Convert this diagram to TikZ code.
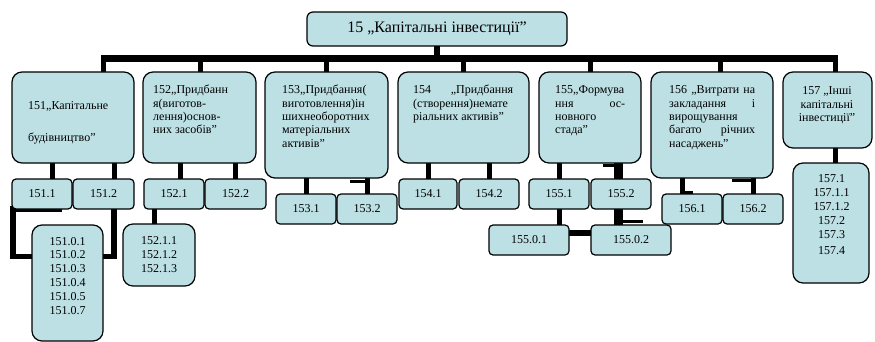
\documentclass[tikz,border=0pt]{standalone}
\usepackage{fontspec}
\setmainfont{Liberation Serif}
\usetikzlibrary{backgrounds}
\definecolor{boxfill}{RGB}{188,224,228}
\newcommand\lns[2]{\begin{tabular}[t]{@{}#1@{}}#2\end{tabular}}
\begin{document}
\begin{tikzpicture}[x=1pt,y=-1pt,
  box/.style={draw=black, line width=1.2pt, fill=boxfill, inner sep=0pt, outer sep=0pt},
  bigbox/.style={box, rounded corners=10pt},
  topbox/.style={box, rounded corners=6pt},
  smallbox/.style={box, rounded corners=4pt, font=\fontsize{12}{14}\selectfont},
  lbl/.style={inner sep=0pt, anchor=base west, font=\fontsize{12}{13.3}\selectfont},
  lstxt/.style={inner sep=0pt, anchor=base, font=\fontsize{12}{14}\selectfont},
  conn/.style={line width=5pt, draw=black},
  wideconn/.style={line width=9pt, draw=black},
  busline/.style={line width=6.5pt, draw=black},
  stub/.style={line width=3pt, draw=black},
]
\useasboundingbox (0,0) rectangle (875,342);

% top
\node[topbox, minimum width=260pt, minimum height=34pt, font=\fontsize{16}{19}\selectfont] (T) at (437,29) {15 „Капітальні інвестиції”};

% level 1
\node[bigbox, minimum width=122pt, minimum height=91pt] (B151) at (73,117.5) {};
\node[bigbox, minimum width=113pt, minimum height=91pt] (B152) at (199.5,117.5) {};
\node[bigbox, minimum width=123pt, minimum height=106pt] (B153) at (326.5,125) {};
\node[bigbox, minimum width=131pt, minimum height=91pt] (B154) at (463.5,117.5) {};
\node[bigbox, minimum width=102pt, minimum height=91pt] (B155) at (590,117.5) {};
\node[bigbox, minimum width=122pt, minimum height=106pt] (B156) at (712,125) {};
\node[bigbox, minimum width=89pt, minimum height=76pt] (B157) at (827.5,110) {};

\node[lbl] (t151) at (28,110) {\lns{l}{151„Капітальне\\[18.7pt]будівництво”}};
\node[lbl] (t152) at (153,94) {\lns{l}{152„Придбанн\\я(виготов-\\лення)основ-\\них засобів”}};
\node[lbl] (t153) at (282,94) {\lns{l}{153„Придбання(\\виготовлення)ін\\шихнеоборотних\\матеріальних\\активів”}};
\node[lbl] (t154) at (413,94) {\lns{l}{\makebox[100pt][s]{154 „Придбання}\\(створення)немате\\ріальних активів”}};
\node[lbl] (t155) at (555,94) {\lns{l}{155„Формува\\\makebox[70pt][s]{ння ос-}\\новного\\стада”}};
\node[lbl] (t156) at (669,94) {\lns{l}{\makebox[86pt][s]{156 „Витрати на}\\\makebox[86pt][s]{закладання і}\\вирощування\\\makebox[86pt][s]{багато річних}\\насаджень”}};
\node[lbl, anchor=base] (t157) at (827,95) {\lns{c}{157 „Інші\\капітальні\\інвестиції”}};

% level 2
\node[smallbox, minimum width=60pt, minimum height=30pt] (S1511) at (42,194) {151.1};
\node[smallbox, minimum width=61pt, minimum height=30pt] (S1512) at (103.5,194) {151.2};
\node[smallbox, minimum width=60pt, minimum height=30pt] (S1521) at (174,194) {152.1};
\node[smallbox, minimum width=61pt, minimum height=30pt] (S1522) at (235.5,194) {152.2};
\node[smallbox, minimum width=60pt, minimum height=30pt] (S1531) at (306,209) {153.1};
\node[smallbox, minimum width=60pt, minimum height=30pt] (S1532) at (367,209) {153.2};
\node[smallbox, minimum width=58pt, minimum height=30pt] (S1541) at (428,194) {154.1};
\node[smallbox, minimum width=60pt, minimum height=30pt] (S1542) at (489,194) {154.2};
\node[smallbox, minimum width=60pt, minimum height=30pt] (S1551) at (559,194) {155.1};
\node[smallbox, minimum width=60pt, minimum height=30pt] (S1552) at (621,194) {155.2};
\node[smallbox, minimum width=60pt, minimum height=30pt] (S1561) at (692,209) {156.1};
\node[smallbox, minimum width=60pt, minimum height=30pt] (S1562) at (753,209) {156.2};
\node[smallbox, minimum width=80pt, minimum height=30pt] (S15501) at (529,240) {155.0.1};
\node[smallbox, minimum width=80pt, minimum height=30pt] (S15502) at (631,240) {155.0.2};

% lists
\node[bigbox, minimum width=71pt, minimum height=116pt] (L151) at (67.5,283) {};
\node[bigbox, minimum width=72pt, minimum height=62pt] (L152) at (159,255) {};
\node[bigbox, minimum width=76pt, minimum height=120pt] (L157) at (831,223) {};
\node[lstxt, font=\fontsize{12}{13.8}\selectfont] (l151) at (67.5,245) {\lns{c}{151.0.1\\151.0.2\\151.0.3\\151.0.4\\151.0.5\\151.0.7}};
\node[lstxt] (l152) at (159,244) {\lns{c}{152.1.1\\152.1.2\\152.1.3}};
\node[lstxt, font=\fontsize{12}{14.2}\selectfont] (l157) at (831.5,182) {\lns{c}{157.1\\157.1.1\\157.1.2\\157.2\\157.3\\[1pt]157.4}};

% connectors
\begin{scope}[on background layer]
\coordinate (busL) at (101,58.5);
\coordinate (busR) at (837.5,58.5);
\draw[busline] (busL) -- (busR);
\draw[busline] (T.south) -- (T.south |- busL);
\draw[conn] (103.5,0 |- busL) -- (103.5,0 |- B151.north);
\draw[conn] (200,0 |- busL) -- (200,0 |- B152.north);
\draw[conn] (B153.north |- busL) -- (B153.north);
\draw[conn] (B154.north |- busL) -- (B154.north);
\draw[conn] (B155.north |- busL) -- (B155.north);
\draw[conn] (720,0 |- busL) -- (720,0 |- B156.north);
\draw[conn] (835,0 |- busL) -- (835,0 |- B157.north);

\draw[conn] (52.5,0 |- B151.south) -- (52.5,0 |- S1511.north);
\draw[conn] (114,0 |- B151.south) -- (114,0 |- S1512.north);
\draw[conn] (180,0 |- B152.south) -- (180,0 |- S1521.north);
\draw[conn] (S1522.north |- B152.south) -- (S1522.north);
\draw[conn] (S1531.north |- B153.south) -- (S1531.north);
\draw[conn] (S1532.north |- B153.south) -- (S1532.north);
\draw[stub] (350,181) -- (367,181);
\draw[conn] (S1541.north |- B154.south) -- (S1541.north);
\draw[conn] (S1542.north |- B154.south) -- (S1542.north);
\draw[conn] (559.5,0 |- B155.south) -- (559.5,0 |- S1551.north);
\draw[wideconn] (618,0 |- B155.south) -- (618,0 |- S1552.north);
\draw[stub] (603,165) -- (618,165);
\draw[conn] (682,0 |- B156.south) -- (682,0 |- S1561.north);
\draw[stub] (682,192) -- (693,192);
\draw[conn] (S1562.north |- B156.south) -- (S1562.north);
\draw[stub] (732,180.5) -- (753,180.5);
\draw[conn] (835,0 |- B157.south) -- (835,0 |- L157.north);

\draw[conn, line width=5.5pt] (62,0 |- S1511.south) -- (13,0 |- S1511.south) -- (13,256.5) -- (L151.west |- 0,256.5);
\draw[conn, line width=5.5pt] (114,0 |- S1512.south) -- (114,256.5) -- (L151.east |- 0,256.5);
\draw[conn] (154.5,0 |- S1521.south) -- (154.5,0 |- L152.north);
\draw[conn] (559.5,0 |- S1551.south) -- (559.5,0 |- S15501.north);
\draw[wideconn] (618,0 |- S1552.south) -- (618,0 |- S15502.north);
\draw[stub] (618,221) -- (643,221);
\draw[line width=6pt] (S15501.east |- 0,233) -- (S15502.west |- 0,233);
\end{scope}
\end{tikzpicture}
\end{document}
